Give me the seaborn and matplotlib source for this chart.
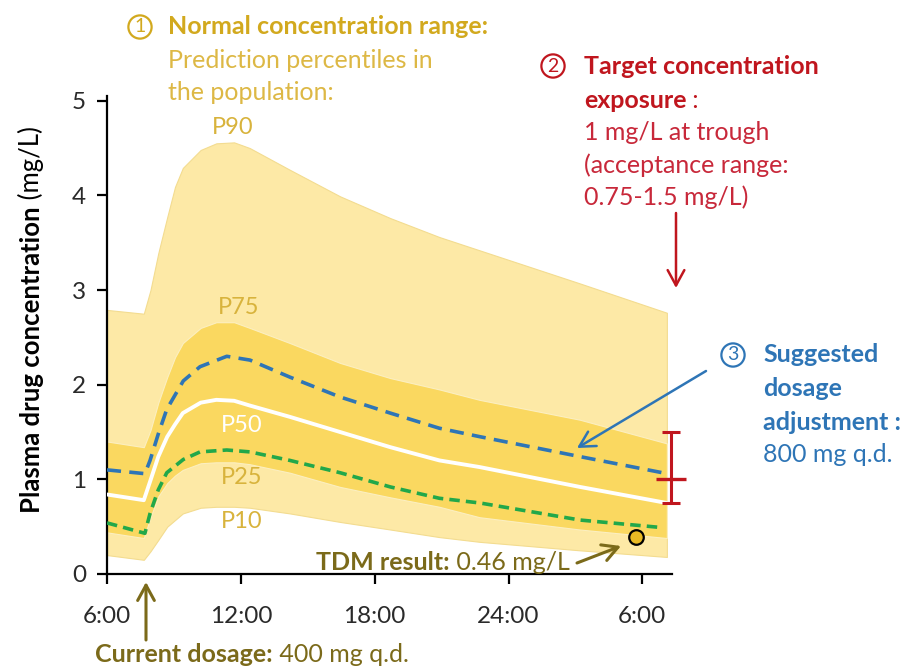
import numpy as np
import pandas as pd
import matplotlib
matplotlib.use("Agg")
import matplotlib.pyplot as plt
import seaborn as sns

# ---------------- data ----------------
hours = [6.0, 7.65, 7.95, 8.3, 8.7, 9.05, 9.4, 10.2, 10.9, 11.7, 12.4,
         14.2, 16.45, 18.7, 20.9, 22.7, 27.2, 31.1]
p90 = [2.79, 2.75, 3.00, 3.39, 3.77, 4.09, 4.29, 4.48, 4.55, 4.56, 4.50,
       4.27, 3.99, 3.76, 3.56, 3.42, 3.07, 2.76]
p75 = [1.40, 1.34, 1.52, 1.81, 2.08, 2.29, 2.44, 2.60, 2.66, 2.66, 2.60,
       2.44, 2.23, 2.07, 1.95, 1.84, 1.63, 1.38]
p50 = [0.84, 0.78, 0.99, 1.24, 1.45, 1.58, 1.70, 1.81, 1.84, 1.83, 1.78,
       1.66, 1.50, 1.34, 1.20, 1.13, 0.92, 0.75]
p25 = [0.44, 0.38, 0.60, 0.82, 0.96, 1.04, 1.10, 1.17, 1.18, 1.18, 1.16,
       1.07, 0.92, 0.81, 0.71, 0.60, 0.47, 0.38]
p10 = [0.20, 0.15, 0.24, 0.36, 0.50, 0.57, 0.64, 0.70, 0.71, 0.71, 0.70,
       0.64, 0.55, 0.47, 0.39, 0.34, 0.25, 0.18]

dose_hours = [6.0, 7.7, 7.93, 8.3, 8.68, 9.42, 10.17, 11.37, 12.41,
              14.2, 16.45, 18.7, 20.9, 22.73, 27.21, 30.9]
conc_400mg = [0.54, 0.43, 0.64, 0.89, 1.07, 1.21, 1.29, 1.31, 1.29,
              1.20, 1.07, 0.92, 0.80, 0.75, 0.57, 0.49]
conc_800mg = [1.10, 1.06, 1.20, 1.48, 1.74, 2.04, 2.19, 2.30, 2.26,
              2.08, 1.87, 1.70, 1.54, 1.45, 1.24, 1.07]

tick_hours = [6, 12, 18, 24, 30]
tick_labels = ["6:00", "12:00", "18:00", "24:00", "6:00"]

target_time = 31.3
target_conc = 1.0
accept_low = 0.75
accept_high = 1.5

tdm_time = 29.7
tdm_conc = 0.39

# ---------------- style ----------------
FONT = ["Lato", "DejaVu Sans"]
sns.set_style("ticks")
plt.rcParams["font.family"] = FONT

LIGHT = "#FDE9A6"
DARK = "#FAD860"
BLUE = "#2E75B6"
GREEN = "#22A84A"
RED = "#C0161E"
RED_T = "#C8283A"
OLIVE = "#7B6A1A"
GOLD_B = "#D2A91E"
GOLD = "#DDB845"
PLAB = "#D8B33C"

W, H = 911, 670
fig = plt.figure(figsize=(W / 100, H / 100), dpi=100)
ax = fig.add_axes([107 / W, 1 - 574 / H, (672 - 107) / W, (574 - 96) / H])

bands = pd.DataFrame({"hour": hours, "p10": p10, "p25": p25, "p50": p50,
                      "p75": p75, "p90": p90})
doses = pd.DataFrame({"hour": dose_hours, "c400": conc_400mg, "c800": conc_800mg})

ax.fill_between(bands["hour"], bands["p10"], bands["p90"], color=LIGHT,
                ec="#F3DC90", lw=0.8, zorder=1)
ax.fill_between(bands["hour"], bands["p25"], bands["p75"], color=DARK,
                ec="#FCEFC0", lw=0.8, zorder=2)

sns.lineplot(data=bands, x="hour", y="p50", ax=ax, color="white", lw=2.8,
             estimator=None, sort=False, zorder=3)
sns.lineplot(data=doses, x="hour", y="c800", ax=ax, color=BLUE, lw=2.6,
             estimator=None, sort=False, linestyle=(0, (3.9, 2.3)), zorder=4)
sns.lineplot(data=doses, x="hour", y="c400", ax=ax, color=GREEN, lw=2.6,
             estimator=None, sort=False, linestyle=(0, (2.9, 1.7)), zorder=4)

# acceptance range
ax.errorbar([target_time], [target_conc],
            yerr=[[target_conc - accept_low], [accept_high - target_conc]],
            fmt="none", ecolor=RED, elinewidth=2.2, capsize=6.5, capthick=2.2,
            clip_on=False, zorder=6)
ax.plot([target_time], [target_conc], marker="_", ms=22, mew=2.4, color=RED,
        clip_on=False, zorder=6)

# TDM observation
ax.scatter([tdm_time], [tdm_conc], s=110, color="#E8B923", edgecolor="black",
           linewidth=1.6, zorder=7)

ax.set_xlim(6, 31.33)
ax.set_ylim(0, 5.05)
ax.set_xticks(tick_hours)
ax.set_xticklabels(tick_labels)
ax.set_yticks([0, 1, 2, 3, 4, 5])
ax.set_xlabel("")
ax.set_ylabel("")
sns.despine(ax=ax)
for s in ["left", "bottom"]:
    ax.spines[s].set_linewidth(1.6)
    ax.spines[s].set_color("black")
ax.tick_params(axis="both", direction="out", length=7, width=1.6,
               labelsize=17.5, colors="black")
ax.tick_params(axis="x", pad=16)
ax.tick_params(axis="y", pad=8)
for lab in ax.get_xticklabels() + ax.get_yticklabels():
    lab.set_color("#2A2A2A")


# ---------------- text helpers ----------------
def P(x, y):
    return (x / W, 1 - y / H)


def rich(x, y, pieces, size, rotation=0):
    s, c, w = pieces[0]
    if rotation == 0:
        t = fig.text(*P(x, y), s, color=c, fontweight=w, fontsize=size,
                     ha="left", va="center")
    else:
        t = fig.text(*P(x, y), s, color=c, fontweight=w, fontsize=size,
                     ha="center", va="bottom", rotation=90)
    prev = t
    for s, c, w in pieces[1:]:
        if rotation == 0:
            prev = ax.annotate(s, xy=(1, 0), xycoords=prev, ha="left", va="bottom",
                               color=c, fontweight=w, fontsize=size,
                               annotation_clip=False)
        else:
            prev = ax.annotate(s, xy=(1, 1), xycoords=prev, ha="right", va="bottom",
                               color=c, fontweight=w, fontsize=size, rotation=90,
                               annotation_clip=False)
    return t


def circled(x, y, d, color):
    fig.text(*P(x, y), d, color=color, fontsize=14, ha="center", va="center",
             bbox=dict(boxstyle="circle,pad=0.16", fc="none", ec=color, lw=1.6))


def arrow(x0, y0, x1, y1, color, lw=1.8):
    ax.annotate("", xy=P(x1, y1), xytext=P(x0, y0), xycoords="figure fraction",
                textcoords="figure fraction",
                arrowprops=dict(arrowstyle="->,head_length=0.55,head_width=0.3",
                                color=color, lw=lw, mutation_scale=20,
                                shrinkA=0, shrinkB=0),
                annotation_clip=False)


AS = 18
# (1) normal range
circled(140, 27, "1", GOLD_B)
rich(168, 27, [("Normal concentration range:", GOLD_B, "bold")], AS)
rich(168, 60, [("Prediction percentiles in", GOLD, "normal")], AS)
rich(168, 93, [("the population:", GOLD, "normal")], AS)

# percentile labels
for lbl, (x, y), col in [("P90", (233, 128), PLAB), ("P75", (239, 308), PLAB),
                         ("P50", (242, 425), "white"), ("P25", (242, 478), PLAB),
                         ("P10", (242, 521), PLAB)]:
    fig.text(*P(x, y), lbl, color=col, fontsize=17, ha="center", va="center",
             zorder=5)

# (2) target
circled(553, 66, "2", RED)
rich(584, 66, [("Target concentration", RED, "bold")], AS)
rich(584, 100, [("exposure", RED, "bold"), (" :", RED, "normal")], AS)
rich(584, 132, [("1 mg/L at trough", RED_T, "normal")], AS)
rich(584, 165, [("(acceptance range:", RED_T, "normal")], AS)
rich(584, 197, [("0.75-1.5 mg/L)", RED_T, "normal")], AS)
arrow(676, 213, 676, 288, RED)

# (3) suggested adjustment
circled(733, 355, "3", BLUE)
rich(763, 355, [("Suggested", BLUE, "bold")], AS)
rich(763, 388, [("dosage", BLUE, "bold")], AS)
rich(763, 422, [("adjustment :", BLUE, "bold")], AS)
rich(763, 455, [("800 mg q.d.", BLUE, "normal")], AS)
arrow(706, 371, 577, 448, BLUE)

# TDM result
rich(316, 562, [("TDM result:", OLIVE, "bold"), (" 0.46 mg/L", OLIVE, "normal")], AS)
arrow(577, 563, 621, 546, OLIVE, lw=2.2)

# current dosage
rich(95, 655, [("Current dosage:", OLIVE, "bold"), (" 400 mg q.d.", OLIVE, "normal")], AS)
arrow(146, 640, 146, 582, OLIVE, lw=2.2)

# y label
rich(32, 513, [("Plasma drug concentration", "black", "bold"),
               (" (mg/L)", "black", "normal")], 18.5, rotation=90)

fig.savefig("out.png", dpi=100)
